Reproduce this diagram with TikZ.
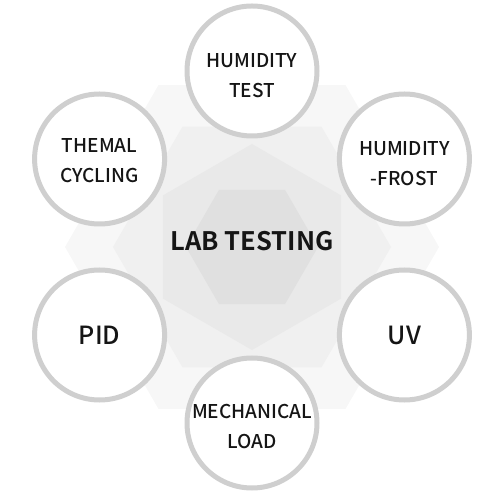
\documentclass[tikz,border=0pt]{standalone}
\usepackage{fontspec}
\setmainfont{Noto Sans CJK KR}[BoldFont={Noto Sans CJK KR Bold}]
\newfontfamily\ringfont{Noto Sans CJK KR Medium}
\usepackage{tikz}
\usetikzlibrary{positioning}
\usepackage{xcolor}

\definecolor{hexA}{HTML}{F7F7F7}
\definecolor{hexB}{HTML}{F0F0F0}
\definecolor{hexC}{HTML}{E9E9E9}
\definecolor{hexD}{HTML}{E0E0E0}
\definecolor{ringgray}{HTML}{CFCFCF}
\definecolor{inkgray}{HTML}{151515}

\tikzset{
	ring/.style={circle,draw=ringgray,line width=5pt,fill=white,minimum size=130pt,inner sep=0pt},
	ringtext/.style={align=center,text=inkgray,font=\ringfont\fontsize{19}{30}\selectfont},
	bigtext/.style={text=inkgray,font=\ringfont\fontsize{25}{30}\selectfont}
}

\begin{document}
\begin{tikzpicture}[x=1pt,y=1pt]
	\useasboundingbox (-252,-247) rectangle (229,247);
	% background hexagons
	\fill[hexA] (0:187) \foreach \a in {60,120,...,300} {-- (\a:187)} -- cycle;
	\fill[hexB] (0:139) \foreach \a in {60,120,...,300} {-- (\a:139)} -- cycle;
	\fill[hexC] (30:103) \foreach \a in {90,150,...,330} {-- (\a:103)} -- cycle;
	\fill[hexD] (0:66) \foreach \a in {60,120,...,300} {-- (\a:66)} -- cycle;
	\node[text=inkgray,font=\bfseries\fontsize{25.5}{30}\selectfont] (lab) at (0,6) {LAB TESTING};
	% the six rings
	\node[ring] (humtest) at (90:176) {};
	\node[ring] (humfrost) at (30:176) {};
	\node[ring] (uv) at (-30:176) {};
	\node[ring] (mech) at (-90:176) {};
	\node[ring] (pid) at (-150:176) {};
	\node[ring] (thermal) at (150:176) {};
	\node[ringtext] (humtestlbl) at ([yshift=-5pt]humtest.center) {HUMIDITY\\TEST};
	\node[ringtext] (humfrostlbl) at ([yshift=-5pt]humfrost.center) {HUMIDITY\\-FROST};
	\node[bigtext] (uvlbl) at (uv.center) {UV};
	\node[ringtext] (mechlbl) at ([yshift=-4pt]mech.center) {MECHANICAL\\LOAD};
	\node[bigtext] (pidlbl) at (pid.center) {PID};
	\node[ringtext] (thermallbl) at ([yshift=-2pt]thermal.center) {THEMAL\\CYCLING};
\end{tikzpicture}
\end{document}
